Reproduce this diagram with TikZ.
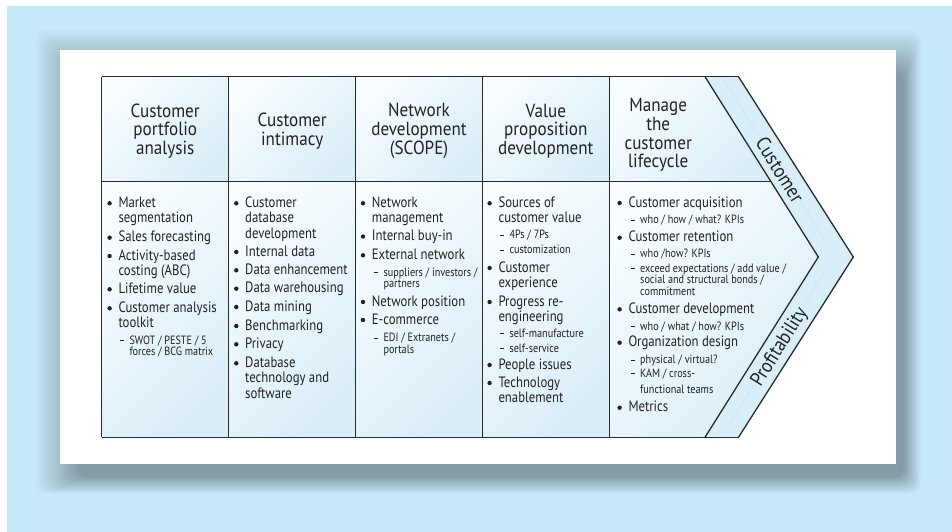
\documentclass[tikz,border=0pt]{standalone}
\usepackage{fontspec}
\setmainfont{PT Sans}
\newfontfamily\hdfont[FakeStretch=0.9]{PT Sans}
\newfontfamily\bdfont[FakeStretch=0.85]{PT Sans}
\definecolor{bgblue}{HTML}{C6E9F8}
\definecolor{shdark}{HTML}{849CA8}
\definecolor{cellA}{HTML}{F7FCFE}
\definecolor{cellB}{HTML}{DAEEF8}
\definecolor{bandc}{HTML}{D8EEF9}
\definecolor{inkc}{HTML}{222222}
\definecolor{linec}{HTML}{2A2A2A}
\newcommand\Ln[1]{\hbox{#1}}
\newcommand\Bul[4]{%
  \node[itm,anchor=base west] (#1) at (#2,#3) {\vtop{#4}};
  \fill[bulc] ([xshift=-8.7pt,yshift=4pt]#1.base west) circle (2.2pt);}
\newcommand\Sub[4]{%
  \node[subitm,anchor=base west] (#1) at (#2,#3) {\vtop{#4}};
  \draw[dashc] ([xshift=-9pt,yshift=3.2pt]#1.base west) -- ([xshift=-5pt,yshift=3.2pt]#1.base west);}
\tikzset{
  itm/.style={inner sep=0pt, text=inkc, font=\bdfont\fontsize{15}{15.4}\selectfont},
  subitm/.style={inner sep=0pt, text=inkc, font=\bdfont\fontsize{12}{11.7}\selectfont},
  hd/.style={inner sep=0pt, text=inkc, align=center, font=\hdfont\fontsize{19}{18.7}\selectfont},
  lbl/.style={inner sep=1pt, text=inkc, fill=bandc, font=\hdfont\fontsize{20}{20}\selectfont},
  bulc/.style={fill=inkc},
  dashc/.style={draw=inkc, line width=0.7pt},
  tbl/.style={draw=linec, line width=1.3pt, line join=miter},
  cellshade/.style={left color=cellA, right color=cellB, shading angle=45},
  guide/.style={draw=gray!55, line width=0.4pt, dash pattern=on 0.6pt off 2pt}
}
\begin{document}
\begin{tikzpicture}[x=1pt,y=-1pt]
\useasboundingbox (0,0) rectangle (952,532);
% background
\fill[white] (0,0) rectangle (952,532);
\fill[bgblue] (7,6) rectangle (952,532);
% soft shadow of the card
\foreach \i in {0,...,14}{
  \pgfmathsetmacro\t{\i/14}
  \pgfmathsetmacro\p{100*\t}
  \fill[shdark!\p!bgblue, rounded corners=10pt] ({33+45*\t},{27+46*\t}) rectangle ({922-18*\t},{495-18*\t});
}
% card
\fill[white] (60,50) rectangle (896,464);
% geometry
\coordinate (X0T) at (101.7,76.7);
\coordinate (X1T) at (228.7,76.7);
\coordinate (X2T) at (355.7,76.7);
\coordinate (X3T) at (482.3,76.7);
\coordinate (X4T) at (609.3,76.7);
\coordinate (XIT) at (705,76.7);
\coordinate (XOT) at (738.5,76.7);
\coordinate (X0M) at (101.7,181.7);
\coordinate (X1M) at (228.7,181.7);
\coordinate (X2M) at (355.7,181.7);
\coordinate (X3M) at (482.3,181.7);
\coordinate (X4M) at (609.3,181.7);
\coordinate (XIM) at (771,181.7);
\coordinate (X0B) at (101.7,437.3);
\coordinate (X1B) at (228.7,437.3);
\coordinate (X2B) at (355.7,437.3);
\coordinate (X3B) at (482.3,437.3);
\coordinate (X4B) at (609.3,437.3);
\coordinate (XIB) at (705,437.3);
\coordinate (XOB) at (738.5,437.3);
\coordinate (TI) at (818.3,257);
\coordinate (TO) at (853.3,257);
% cell fills
\shade[cellshade] (X0T) rectangle (X1M);
\shade[cellshade] (X1T) rectangle (X2M);
\shade[cellshade] (X2T) rectangle (X3M);
\shade[cellshade] (X3T) rectangle (X4M);
\shade[cellshade] (X4T) -- (XIT) -- (XIM) -- (X4M) -- cycle;
\shade[cellshade] (X0M) rectangle (X1B);
\shade[cellshade] (X1M) rectangle (X2B);
\shade[cellshade] (X2M) rectangle (X3B);
\shade[cellshade] (X3M) rectangle (X4B);
\shade[cellshade] (X4M) -- (XIM) -- (TI) -- (XIB) -- (X4B) -- cycle;
\fill[bandc] (XIT) -- (XOT) -- (TO) -- (XOB) -- (XIB) -- (TI) -- cycle;
% guide lines in the band
\draw[guide] (724,80) -- (826,242);
\draw[guide] (824,273) -- (729,425);
% band labels
\node[lbl, rotate=-57.9] (cust) at (780,170) {Customer};
\node[lbl, rotate=57.9] (prof) at (780,347) {Profitability};
% table lines
\draw[tbl] (X0T) -- (XOT);
\draw[tbl] (X0B) -- (XOB);
\draw[tbl] (X0T) -- (X0B);
\draw[tbl] (X1T) -- (X1B);
\draw[tbl] (X2T) -- (X2B);
\draw[tbl] (X3T) -- (X3B);
\draw[tbl] (X4T) -- (X4B);
\draw[tbl] (X0M) -- (XIM);
\draw[tbl] (XIT) -- (TI) -- (XIB);
\draw[tbl] (XOT) -- (TO) -- (XOB);
% headers
\node[hd] (h1) at (165.2,131) {Customer\\portfolio\\analysis};
\node[hd] (h2) at (292.2,131) {Customer\\intimacy};
\node[hd] (h3) at (419,131) {Network\\development\\(SCOPE)};
\node[hd] (h4) at (545.8,131) {Value\\proposition\\development};
\node[hd] (h5) at (658.2,135) {Manage\\the\\customer\\lifecycle};
% column 1
\Bul{a1}{118.3}{207.3}{\Ln{Market}\Ln{segmentation}}
\Bul{a2}{118.3}{241.7}{\Ln{Sales forecasting}}
\Bul{a3}{118.3}{260}{\Ln{Activity-based}\Ln{costing (ABC)}}
\Bul{a4}{118.3}{293.3}{\Ln{Lifetime value}}
\Bul{a5}{118.3}{312.3}{\Ln{Customer analysis}\Ln{toolkit}}
\Sub{a5s}{129.3}{344}{\Ln{SWOT / PESTE / 5}\Ln{forces / BCG matrix}}
% column 2
\Bul{b1}{245}{207.3}{\Ln{Customer}\Ln{database}\Ln{development}}
\Bul{b2}{245}{256}{\Ln{Internal data}}
\Bul{b3}{245}{274.3}{\Ln{Data enhancement}}
\Bul{b4}{245}{292.7}{\Ln{Data warehousing}}
\Bul{b5}{245}{311}{\Ln{Data mining}}
\Bul{b6}{245}{330}{\Ln{Benchmarking}}
\Bul{b7}{245}{348.3}{\Ln{Privacy}}
\Bul{b8}{245}{367.3}{\Ln{Database}\Ln{technology and}\Ln{software}}
% column 3
\Bul{c1}{371.7}{207.3}{\Ln{Network}\Ln{management}}
\Bul{c2}{371.7}{240.5}{\Ln{Internal buy-in}}
\Bul{c3}{371.7}{259.3}{\Ln{External network}}
\Sub{c3s}{383.3}{276}{\Ln{suppliers / investors /}\Ln{partners}}
\Bul{c4}{371.7}{306}{\Ln{Network position}}
\Bul{c5}{371.7}{324}{\Ln{E-commerce}}
\Sub{c5s}{383.3}{341.7}{\Ln{EDI / Extranets /}\Ln{portals}}
% column 4
\Bul{d1}{498.3}{207.3}{\Ln{Sources of}\Ln{customer value}}
\Sub{d1s1}{509.3}{238.8}{\Ln{4Ps / 7Ps}}
\Sub{d1s2}{509.3}{253.8}{\Ln{customization}}
\Bul{d2}{498.3}{272}{\Ln{Customer}\Ln{experience}}
\Bul{d3}{498.3}{306}{\Ln{Progress re-}\Ln{engineering}}
\Sub{d3s1}{509.3}{337}{\Ln{self-manufacture}}
\Sub{d3s2}{509.3}{352}{\Ln{self-service}}
\Bul{d4}{498.3}{369}{\Ln{People issues}}
\Bul{d5}{498.3}{387}{\Ln{Technology}\Ln{enablement}}
% column 5
\Bul{e1}{628.3}{207}{\Ln{Customer acquisition}}
\Sub{e1s}{640}{223.3}{\Ln{who / how / what? KPIs}}
\Bul{e2}{628.3}{241.7}{\Ln{Customer retention}}
\Sub{e2s1}{640}{257.3}{\Ln{who /how? KPIs}}
\Sub{e2s2}{640}{272}{\Ln{exceed expectations / add value /}\Ln{social and structural bonds /}\Ln{commitment}}
\Bul{e3}{628.3}{313.3}{\Ln{Customer development}}
\Sub{e3s}{640}{330}{\Ln{who / what / how? KPIs}}
\Bul{e4}{628.3}{346.7}{\Ln{Organization design}}
\Sub{e4s1}{640}{363.3}{\Ln{physical / virtual?}}
\Sub{e4s2}{640}{377}{\Ln{KAM / cross-}\kern5pt\Ln{functional teams}}
\Bul{e5}{628.3}{411.7}{\Ln{Metrics}}
\end{tikzpicture}
\end{document}
